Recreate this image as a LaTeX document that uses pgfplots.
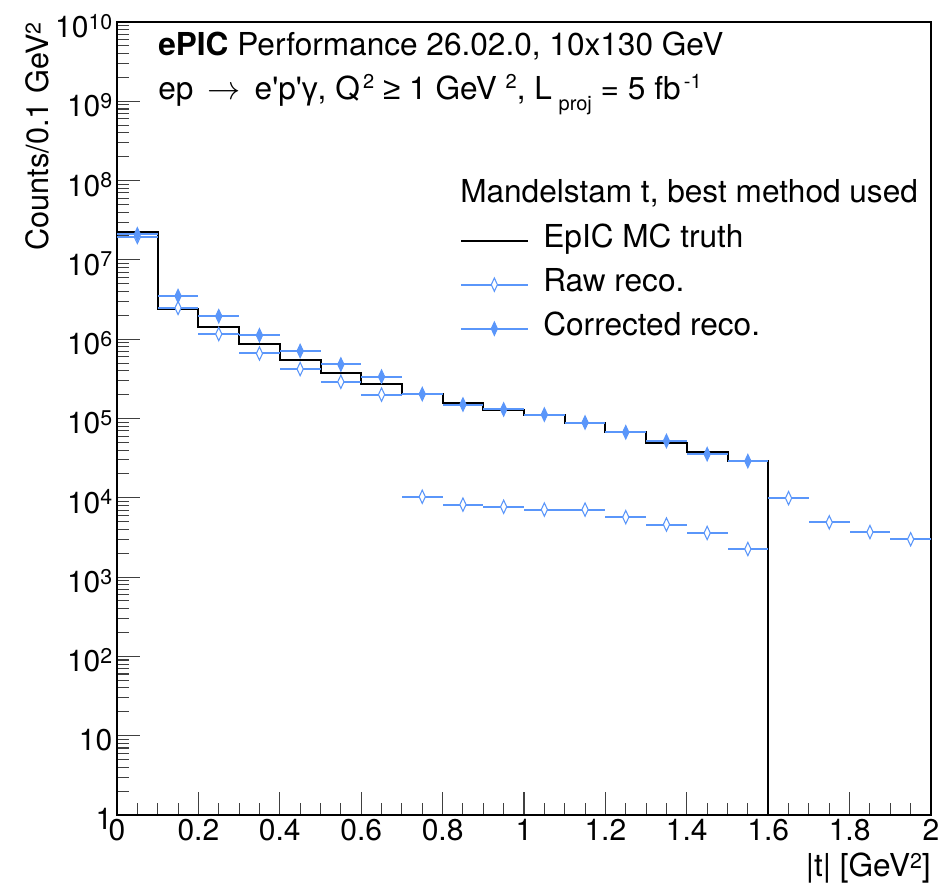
\documentclass[border=0pt]{standalone}
\usepackage{pgfplots}
\pgfplotsset{compat=1.18}
\usepackage{fontspec}
\setmainfont{TeX Gyre Heros}
\newfontfamily\symf{Liberation Sans}
\definecolor{rblue}{RGB}{90,150,250}
\newcommand{\tsup}[1]{\raisebox{6.3pt}{\fontsize{16}{16}\selectfont #1}}
\newcommand{\ttsup}[1]{\hspace{2.5pt}\raisebox{8.5pt}{\fontsize{15}{15}\selectfont #1}}
\newcommand{\ttsub}[1]{\hspace{5pt}\raisebox{-8pt}{\fontsize{15}{15}\selectfont #1}}
\newcommand{\bigfont}{\fontsize{23.7}{28}\selectfont}
\begin{document}
\begin{tikzpicture}
\path[use as bounding box] (-87.75pt,-54pt) rectangle (618.75pt,611.25pt);
\begin{axis}[
  scale only axis, width=610.5pt, height=594.75pt,
  xmin=0, xmax=2, ymode=log, ymin=1, ymax=1e10,
  axis line style={line width=1.2pt},
  xtick={0,0.2,0.4,0.6,0.8,1,1.2,1.4,1.6,1.8,2},
  xticklabels={0,0.2,0.4,0.6,0.8,1,1.2,1.4,1.6,1.8,2},
  minor x tick num=3,
  ytick={1,10,100,1000,1e4,1e5,1e6,1e7,1e8,1e9,1e10},
  yticklabels={1,10,10\tsup{2},10\tsup{3},10\tsup{4},10\tsup{5},10\tsup{6},10\tsup{7},10\tsup{8},10\tsup{9},10\tsup{10}},
  xtick pos=bottom, ytick pos=left, tick align=inside,
  major tick length=17pt, minor tick length=9pt,
  every tick/.style={line width=0.8pt, black!75},
  tick label style={font=\fontsize{22.5}{27}\selectfont},
  yticklabel style={yshift=-3pt},
  legend style={draw=none, fill=none, inner sep=0pt, outer sep=0pt,
    at={(0.4214,0.7419)}, anchor=north west, row sep=12pt,
    font=\bigfont,
    nodes={inner sep=0pt, text height=16pt, text depth=5pt}},
  legend cell align=left,
  clip=true,
]
% MC truth histogram
\addplot[const plot, black, line width=1.5pt,
  legend image code/.code={\draw[black, line width=1.5pt] (0pt,0pt) -- (50pt,0pt);}]
  coordinates {
(0,2.27e7) (0.1,2.38e6) (0.2,1.44e6) (0.3,8.6e5) (0.4,5.5e5) (0.5,3.7e5)
(0.6,2.7e5) (0.7,2.03e5) (0.8,1.55e5) (0.9,1.29e5) (1.0,1.11e5) (1.1,8.8e4)
(1.2,6.7e4) (1.3,4.9e4) (1.4,3.78e4) (1.5,2.95e4) (1.6,2.95e4) (1.6,0.01)};
\addlegendentry{\hspace{11pt}EpIC MC truth}
% raw reco error bars
\addplot[only marks, mark=none, forget plot,
  error bars/.cd, x dir=both, x explicit, error mark=none,
  error bar style={rblue, line width=1.5pt}]
  table[x=x, y=y, x error=e] {
x y e
0.05 1.95e7 0.05
0.15 2.48e6 0.05
0.25 1.16e6 0.05
0.35 6.6e5 0.05
0.45 4.2e5 0.05
0.55 2.9e5 0.05
0.65 2.0e5 0.05
0.75 1.03e4 0.05
0.85 8.2e3 0.05
0.95 7.7e3 0.05
1.05 7.1e3 0.05
1.15 7.1e3 0.05
1.25 5.7e3 0.05
1.35 4.6e3 0.05
1.45 3.6e3 0.05
1.55 2.26e3 0.05
1.65 9.9e3 0.05
1.75 4.9e3 0.05
1.85 3.7e3 0.05
1.95 3.0e3 0.05
};
\addplot[only marks, mark=diamond*, mark size=5pt,
  mark options={xscale=0.62, draw=rblue, fill=white, line width=0.8pt},
  legend image code/.code={
    \draw[rblue, line width=1.5pt] (0pt,0pt) -- (50pt,0pt);
    \draw[rblue, fill=white, line width=0.8pt] (25pt,5pt) -- (27.3pt,0pt) -- (25pt,-5pt) -- (22.7pt,0pt) -- cycle;
  }]
  table[x=x, y=y] {
x y
0.05 1.95e7
0.15 2.48e6
0.25 1.16e6
0.35 6.6e5
0.45 4.2e5
0.55 2.9e5
0.65 2.0e5
0.75 1.03e4
0.85 8.2e3
0.95 7.7e3
1.05 7.1e3
1.15 7.1e3
1.25 5.7e3
1.35 4.6e3
1.45 3.6e3
1.55 2.26e3
1.65 9.9e3
1.75 4.9e3
1.85 3.7e3
1.95 3.0e3
};
\addlegendentry{\hspace{11pt}Raw reco.}
% corrected reco
\addplot[only marks, mark=none, forget plot,
  error bars/.cd, x dir=both, x explicit, error mark=none,
  error bar style={rblue, line width=1.5pt}]
  table[x=x, y=y, x error=e] {
x y e
0.05 2.1e7 0.05
0.15 3.5e6 0.05
0.25 1.95e6 0.05
0.35 1.12e6 0.05
0.45 7.1e5 0.05
0.55 4.8e5 0.05
0.65 3.37e5 0.05
0.75 2.03e5 0.05
0.85 1.5e5 0.05
0.95 1.3e5 0.05
1.05 1.12e5 0.05
1.15 8.9e4 0.05
1.25 6.7e4 0.05
1.35 5.2e4 0.05
1.45 3.55e4 0.05
1.55 2.9e4 0.05
};
\addplot[only marks, mark=diamond*, mark size=5pt,
  mark options={xscale=0.62, draw=rblue, fill=rblue, line width=0.8pt},
  legend image code/.code={
    \draw[rblue, line width=1.5pt] (0pt,0pt) -- (50pt,0pt);
    \draw[rblue, fill=rblue, line width=0.8pt] (25pt,5pt) -- (27.3pt,0pt) -- (25pt,-5pt) -- (22.7pt,0pt) -- cycle;
  }]
  table[x=x, y=y] {
x y
0.05 2.1e7
0.15 3.5e6
0.25 1.95e6
0.35 1.12e6
0.45 7.1e5
0.55 4.8e5
0.65 3.37e5
0.75 2.03e5
0.85 1.5e5
0.95 1.3e5
1.05 1.12e5
1.15 8.9e4
1.25 6.7e4
1.35 5.2e4
1.45 3.55e4
1.55 2.9e4
};
\addlegendentry{\hspace{11pt}Corrected reco.}
\end{axis}
\node[anchor=base west, inner sep=0pt, font=\bigfont] at (30.75pt,569.25pt) {\textbf{ePIC} Performance 26.02.0, 10x130 GeV};
\node[anchor=base west, inner sep=0pt, font=\bigfont] at (30.75pt,536.25pt) {ep\, $\rightarrow$\, e\textquotesingle p\textquotesingle{\symf γ}, Q\ttsup{2} {\symf ≥} 1 GeV\hspace{4pt}\ttsup{2}, L\ttsub{proj} = 5 fb\ttsup{-1}};
\node[anchor=base west, inner sep=0pt, font=\bigfont] at (257.25pt,459pt) {Mandelstam t, best method used};
\node[anchor=base east, rotate=90, inner sep=0pt, font=\fontsize{23}{27}\selectfont] at (-51pt,594.75pt) {Counts/0.1 GeV\tsup{2}};
\node[anchor=base east, inner sep=0pt, font=\bigfont] at (610.5pt,-46.5pt) {|t| [GeV\tsup{2}]};
\end{tikzpicture}
\end{document}
